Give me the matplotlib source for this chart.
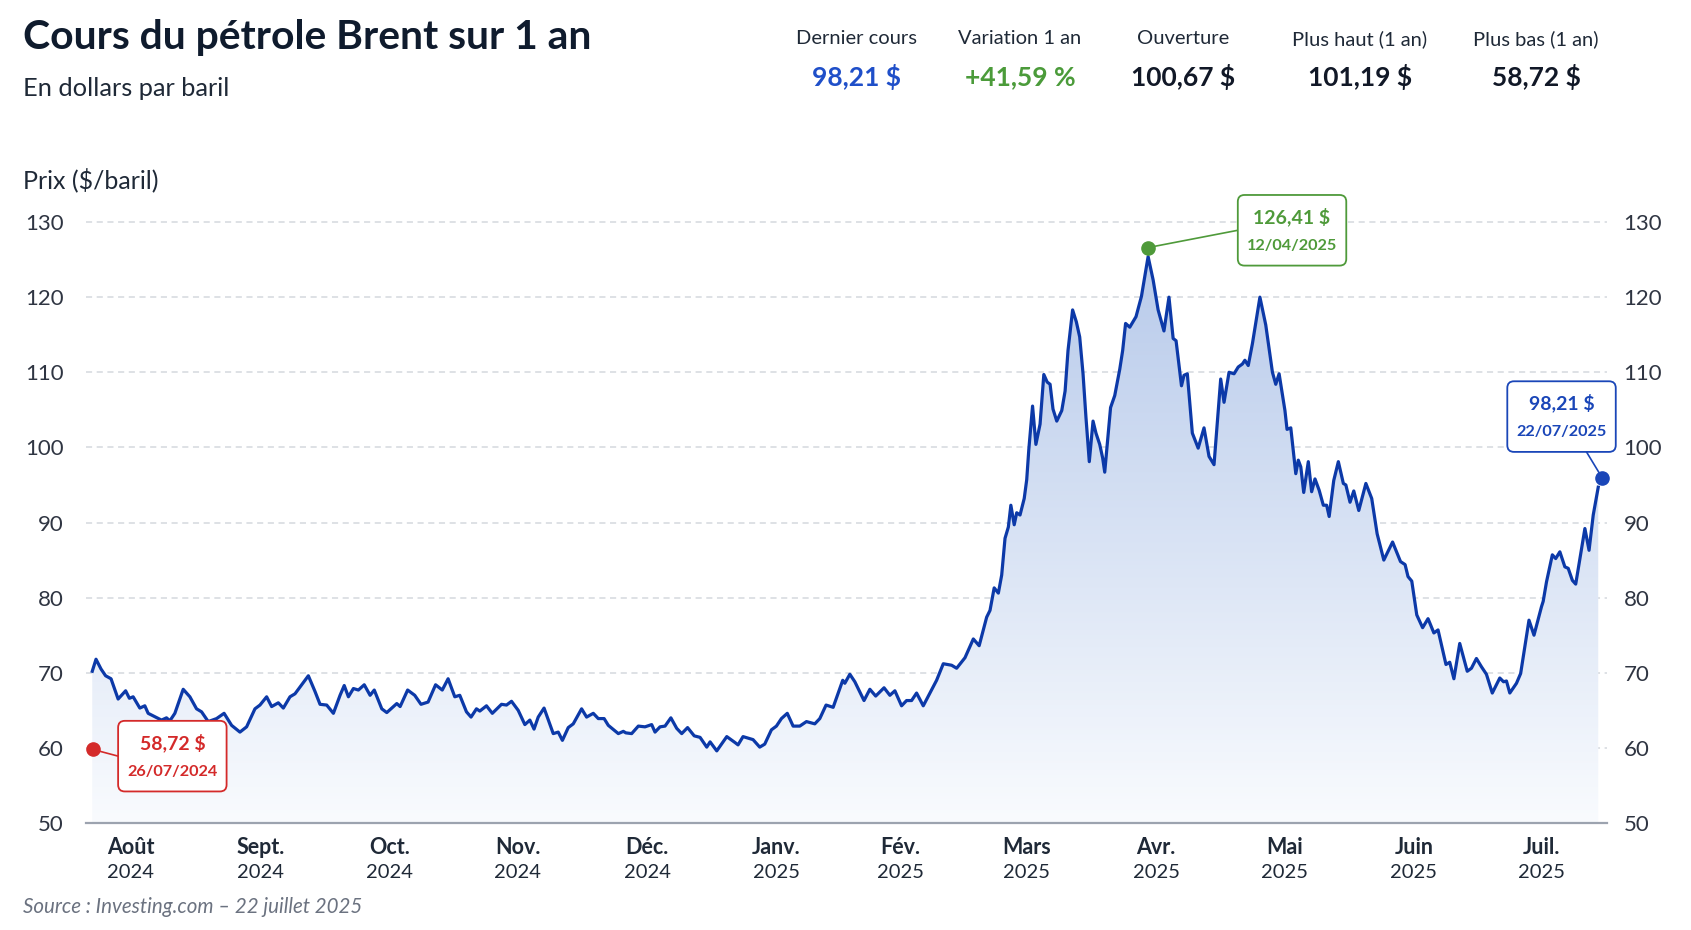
import numpy as np
import matplotlib.pyplot as plt
from matplotlib.colors import LinearSegmentedColormap
from matplotlib.patches import Polygon, FancyBboxPatch

plt.rcParams['font.family'] = ['Lato', 'DejaVu Sans']

# Cours du Brent : jours depuis le 26/07/2024 et prix ($/baril)
jours = [
    0.0, 0.9, 2.1, 3.2, 4.5, 6.2, 8.0, 8.9, 9.8, 11.4, 12.6, 13.4, 16.6, 17.8, 18.6, 19.8,
    21.8, 23.4, 25.0, 26.2, 27.8, 29.8, 31.6, 33.4, 35.4, 37.0, 39.0, 40.2, 41.8, 43.0,
    44.6, 45.8, 47.4, 48.6, 50.2, 51.8, 53.4, 54.6, 56.2, 57.8, 59.4, 60.4, 61.4, 62.6,
    63.8, 65.2, 66.6, 67.6, 69.4, 70.6, 71.8, 73.0, 73.8, 75.6,
    77.3, 78.8, 80.5, 82.3, 83.9, 85.3, 86.9, 88.1, 89.7, 90.8, 92.1, 92.9, 94.5, 95.9,
    98.1, 99.3, 100.5, 102.1, 103.7, 104.9, 105.9, 106.9, 108.3, 110.5, 111.7, 112.7,
    114.1, 115.3, 117.3, 118.5, 120.1, 121.3, 122.7, 123.7, 126.1, 127.3, 127.9, 129.3,
    130.9, 132.5, 134.1, 134.9, 136.1, 137.3, 138.7, 140.1, 141.3, 142.7, 144.3, 145.7,
    147.3, 148.1, 149.7, 152.1, 154.1,
    154.8, 156.0, 158.4, 160.0, 161.2, 162.8, 164.0, 165.2, 166.6, 168.0, 169.6, 171.2,
    173.2, 174.4, 175.9, 177.6, 179.9, 180.4, 181.6, 182.8, 185.0, 186.4, 187.8, 189.8,
    191.2, 192.4, 194.0, 195.2, 196.4, 197.6, 199.2, 200.8, 202.4,
    204.0, 206.0, 207.2, 209.2, 211.2, 212.6, 214.4, 215.2, 216.2, 217.2, 218.0, 218.8,
    219.6, 220.2, 221.0, 221.6, 222.4, 223.4, 224.0, 224.5,
    225.4, 226.2, 227.2, 228.1, 228.9, 229.6, 230.3, 231.2, 232.4, 233.2, 233.9, 235.0,
    235.9, 236.7, 237.5, 238.2, 239.0, 239.9, 240.6, 241.5, 242.2, 242.7, 244.1, 245.1,
    246.3, 247.0, 247.7, 248.7, 250.2, 251.5, 253.1, 254.3, 255.5, 256.9, 258.1, 259.1,
    259.8, 261.1, 261.7, 262.5, 263.7, 265.1, 266.5, 267.7, 268.9, 270.5, 271.3, 272.5,
    273.7, 274.7, 275.7, 276.3, 277.1, 278.1, 279.9, 281.3, 282.9, 283.7, 284.5, 285.9,
    286.4, 287.3, 288.5, 289.1, 289.7, 290.4, 291.5, 292.3, 293.1, 294.1, 295.1, 295.9,
    296.5, 297.6, 298.7, 299.9, 300.5, 301.5, 302.4, 303.6, 305.3, 306.7, 308.0, 309.6,
    311.7, 313.6, 314.7, 315.4, 316.3, 317.5, 318.9, 320.2, 321.6, 322.6, 324.5, 325.4,
    326.4, 327.8, 329.6, 330.6, 331.8, 333.0, 334.2, 335.6, 337.4, 338.3, 339.0, 339.8,
    341.4, 342.4, 344.4, 345.6, 347.4, 347.8, 348.6, 350.0, 350.8, 351.8, 353.0, 353.8,
    354.8, 355.6, 356.6, 357.8, 358.8, 359.8, 361.0,
]
prix = [
    70.2, 71.8, 70.5, 69.6, 69.2, 66.5, 67.6, 66.6, 66.8, 65.3, 65.6, 64.6, 63.7, 64.0, 63.6, 64.6,
    67.8, 66.8, 65.2, 64.8, 63.5, 63.9, 64.6, 63.0, 62.1, 62.8, 65.2, 65.7, 66.8, 65.5,
    66.0, 65.3, 66.8, 67.2, 68.4, 69.6, 67.5, 65.8, 65.7, 64.6, 67.0, 68.3, 66.8, 67.9,
    67.7, 68.4, 67.0, 67.7, 65.2, 64.7, 65.3, 65.9, 65.5, 67.7,
    67.0, 65.8, 66.1, 68.4, 67.7, 69.2, 66.8, 67.0, 64.8, 64.1, 65.2, 64.9, 65.6, 64.6,
    65.8, 65.7, 66.2, 65.0, 63.1, 63.7, 62.5, 64.1, 65.3, 61.9, 62.1, 61.0,
    62.7, 63.2, 65.2, 64.1, 64.6, 63.9, 63.9, 63.0, 61.9, 62.2, 62.0, 61.9,
    62.9, 62.8, 63.1, 62.1, 62.8, 62.9, 64.0, 62.6, 61.9, 62.7, 61.6, 61.4,
    60.1, 60.8, 59.6, 61.5, 60.7,
    60.4, 61.5, 61.1, 60.1, 60.5, 62.4, 62.9, 63.9, 64.6, 62.9, 62.9, 63.5,
    63.2, 63.9, 65.7, 65.4, 69.0, 68.6, 69.8, 68.8, 66.3, 67.8, 66.9, 68.0,
    67.0, 67.6, 65.6, 66.3, 66.3, 67.3, 65.6, 67.3, 69.0,
    71.2, 71.0, 70.6, 72.0, 74.5, 73.6, 77.4, 78.3, 81.3, 80.6, 83.0, 87.9,
    89.4, 92.3, 89.7, 91.3, 91.0, 93.2, 95.7, 99.7,
    105.5, 100.4, 103.1, 109.7, 108.7, 108.4, 105.1, 103.5, 104.9, 107.5, 112.9, 118.3,
    116.7, 114.7, 109.8, 104.0, 98.1, 103.5, 101.9, 100.4, 98.6, 96.7, 105.3, 106.9,
    110.4, 112.9, 116.5, 116.0, 117.4, 120.1, 125.4, 122.3, 118.3, 115.5, 120.0, 114.5,
    114.2, 108.2, 109.6, 109.8, 101.9, 99.9, 102.6, 98.8, 97.7, 109.1, 106.0, 110.0,
    109.8, 110.7, 111.1, 111.6, 110.9, 113.8, 120.0, 116.3, 110.0, 108.4, 109.8, 104.9,
    102.4, 102.6, 96.5, 98.3, 97.4, 94.0, 98.1, 94.1, 95.8, 94.3, 92.3, 92.3,
    90.8, 95.6, 98.1, 95.2, 95.0, 92.7, 94.2, 91.6, 95.2, 93.2, 88.5, 85.0,
    87.4, 84.8, 84.4, 82.8, 82.2, 77.7, 76.0, 77.2, 75.3, 75.7, 71.1, 71.4,
    69.2, 73.9, 70.2, 70.6, 71.9, 70.8, 69.8, 67.3, 69.3, 68.8, 68.9, 67.3,
    68.6, 69.9, 77.0, 75.0, 78.8, 79.5, 82.1, 85.7, 85.2, 86.1, 84.1, 83.9,
    82.3, 81.8, 85.2, 89.2, 86.3, 91.0, 94.7,
]

mois = ['Août', 'Sept.', 'Oct.', 'Nov.', 'Déc.', 'Janv.', 'Fév.', 'Mars', 'Avr.', 'Mai', 'Juin', 'Juil.']
annees = ['2024'] * 5 + ['2025'] * 7
jours_mois = [9.2, 40.4, 71.2, 102.0, 133.0, 164.0, 193.7, 224.0, 255.0, 285.8, 316.8, 347.5]

stats_titres = ['Dernier cours', 'Variation 1 an', 'Ouverture', 'Plus haut (1 an)', 'Plus bas (1 an)']
stats_valeurs = ['98,21 $', '+41,59 %', '100,67 $', '101,19 $', '58,72 $']
stats_couleurs = ['#1f4fc9', '#4b9b3a', '#111827', '#111827', '#111827']

# points remarquables : plus bas, plus haut, dernier cours
pts_jours = [0.1, 253.1, 362.0]
pts_prix = [59.8, 126.6, 95.9]
pts_valeurs = ['58,72 $', '126,41 $', '98,21 $']
pts_dates = ['26/07/2024', '12/04/2025', '22/07/2025']
pts_couleurs = ['#d42a2a', '#4f9a3a', '#1a46b8']

W, H = 1691, 930
fig = plt.figure(figsize=(W / 100, H / 100), dpi=100)
fig.patch.set_facecolor('white')

def fx(px):
    return px / W

def fy(py):
    return 1 - py / H

ax = fig.add_axes([fx(86), fy(823), fx(1607) - fx(86), fy(207) - fy(823)])
xmin, xmax = -1.5, 363.1
ymin, ymax = 50, 132
ax.set_xlim(xmin, xmax)
ax.set_ylim(ymin, ymax)

# grille
for v in range(60, 131, 10):
    ax.axhline(v, color='#d4d8de', lw=1.1, ls=(0, (4, 3)), zorder=0)

# remplissage en dégradé sous la courbe
grad = np.linspace(0, 1, 256).reshape(-1, 1)
cmap = LinearSegmentedColormap.from_list('fond', ['#f9fbfe', '#b6c9ea'])
im = ax.imshow(grad, extent=[xmin, xmax, 50, 128], origin='lower', aspect='auto',
               cmap=cmap, zorder=1, interpolation='bilinear')
verts = np.column_stack([np.r_[jours, jours[::-1]], np.r_[prix, np.full(len(prix), 50.0)]])
zone = Polygon(verts, closed=True, facecolor='none', edgecolor='none')
ax.add_patch(zone)
im.set_clip_path(zone)

ax.plot(jours, prix, color='#0c39a8', lw=2.3, zorder=3, solid_joinstyle='round')

# axes
for s in ['top', 'right', 'left']:
    ax.spines[s].set_visible(False)
ax.spines['bottom'].set_color('#9ca3af')
ax.spines['bottom'].set_linewidth(1.6)
ax.set_xticks([])
ax.set_yticks(range(50, 131, 10))
ax.tick_params(axis='y', length=0, pad=16, labelsize=16, labelcolor='#2f3542')

ax2 = ax.twinx()
ax2.set_ylim(ymin, ymax)
ax2.set_yticks(range(50, 131, 10))
ax2.tick_params(axis='y', length=0, pad=12, labelsize=16, labelcolor='#2f3542')
for s in ax2.spines.values():
    s.set_visible(False)

# mois
for j, m, a in zip(jours_mois, mois, annees):
    ax.text(j, -0.040, m, transform=ax.get_xaxis_transform(), ha='center', va='center',
            fontsize=15.5, fontweight='bold', color='#1f2937')
    ax.text(j, -0.081, a, transform=ax.get_xaxis_transform(), ha='center', va='center',
            fontsize=14.5, color='#1f2937')

# étiquettes des points remarquables
box_w, box_h = 26.0, 9.4
box_cx = [19.2, 287.6, 352.2]
box_cy = [58.9, 128.9, 104.1]
ancre = [(-0.5, 0.0), (-0.5, 0.0), (0.23, -0.5)]
aspect = (W * (fx(1607) - fx(86)) / (xmax - xmin)) / (H * (fy(207) - fy(823)) / (ymax - ymin))
for i in range(3):
    c = pts_couleurs[i]
    ex = box_cx[i] + ancre[i][0] * box_w
    ey = box_cy[i] + ancre[i][1] * box_h
    ax.plot([pts_jours[i], ex], [pts_prix[i], ey], color=c, lw=1.2, zorder=4, clip_on=False)
    ax.plot(pts_jours[i], pts_prix[i], 'o', color=c, ms=9.5, zorder=6, clip_on=False)
    boite = FancyBboxPatch((box_cx[i] - box_w / 2, box_cy[i] - box_h / 2), box_w, box_h,
                           boxstyle='round,pad=0,rounding_size=1.6', mutation_aspect=aspect,
                           facecolor='white', edgecolor=c, lw=1.3, zorder=5, clip_on=False)
    ax.add_patch(boite)
    ax.text(box_cx[i], box_cy[i] + 1.8, pts_valeurs[i], ha='center', va='center',
            fontsize=14, fontweight='bold', color=c, zorder=7, clip_on=False)
    ax.text(box_cx[i], box_cy[i] - 2.1, pts_dates[i], ha='center', va='center',
            fontsize=11.7, fontweight='bold', color=c, zorder=7, clip_on=False)

# titres
fig.text(fx(23), fy(38), 'Cours du pétrole Brent sur 1 an', fontsize=29.4, fontweight='bold',
         color='#0f1b2d', va='center', ha='left')
fig.text(fx(23), fy(88), 'En dollars par baril', fontsize=18.3, color='#1f2937',
         va='center', ha='left')
fig.text(fx(23), fy(180), 'Prix ($/baril)', fontsize=18, color='#1f2937',
         va='center', ha='left')

centres = [856, 1020, 1183, 1360, 1536]
for cx, t, v, c in zip(centres, stats_titres, stats_valeurs, stats_couleurs):
    fig.text(fx(cx), fy(39), t, fontsize=14.5, color='#1f2937', ha='center', va='center')
    fig.text(fx(cx), fy(77), v, fontsize=19, fontweight='bold', color=c, ha='center', va='center')

fig.text(fx(23), fy(907), 'Source : Investing.com – 22 juillet 2025', fontsize=14.8,
         style='italic', color='#6b7280', va='center', ha='left')

fig.savefig('out.png', dpi=100, facecolor='white')
